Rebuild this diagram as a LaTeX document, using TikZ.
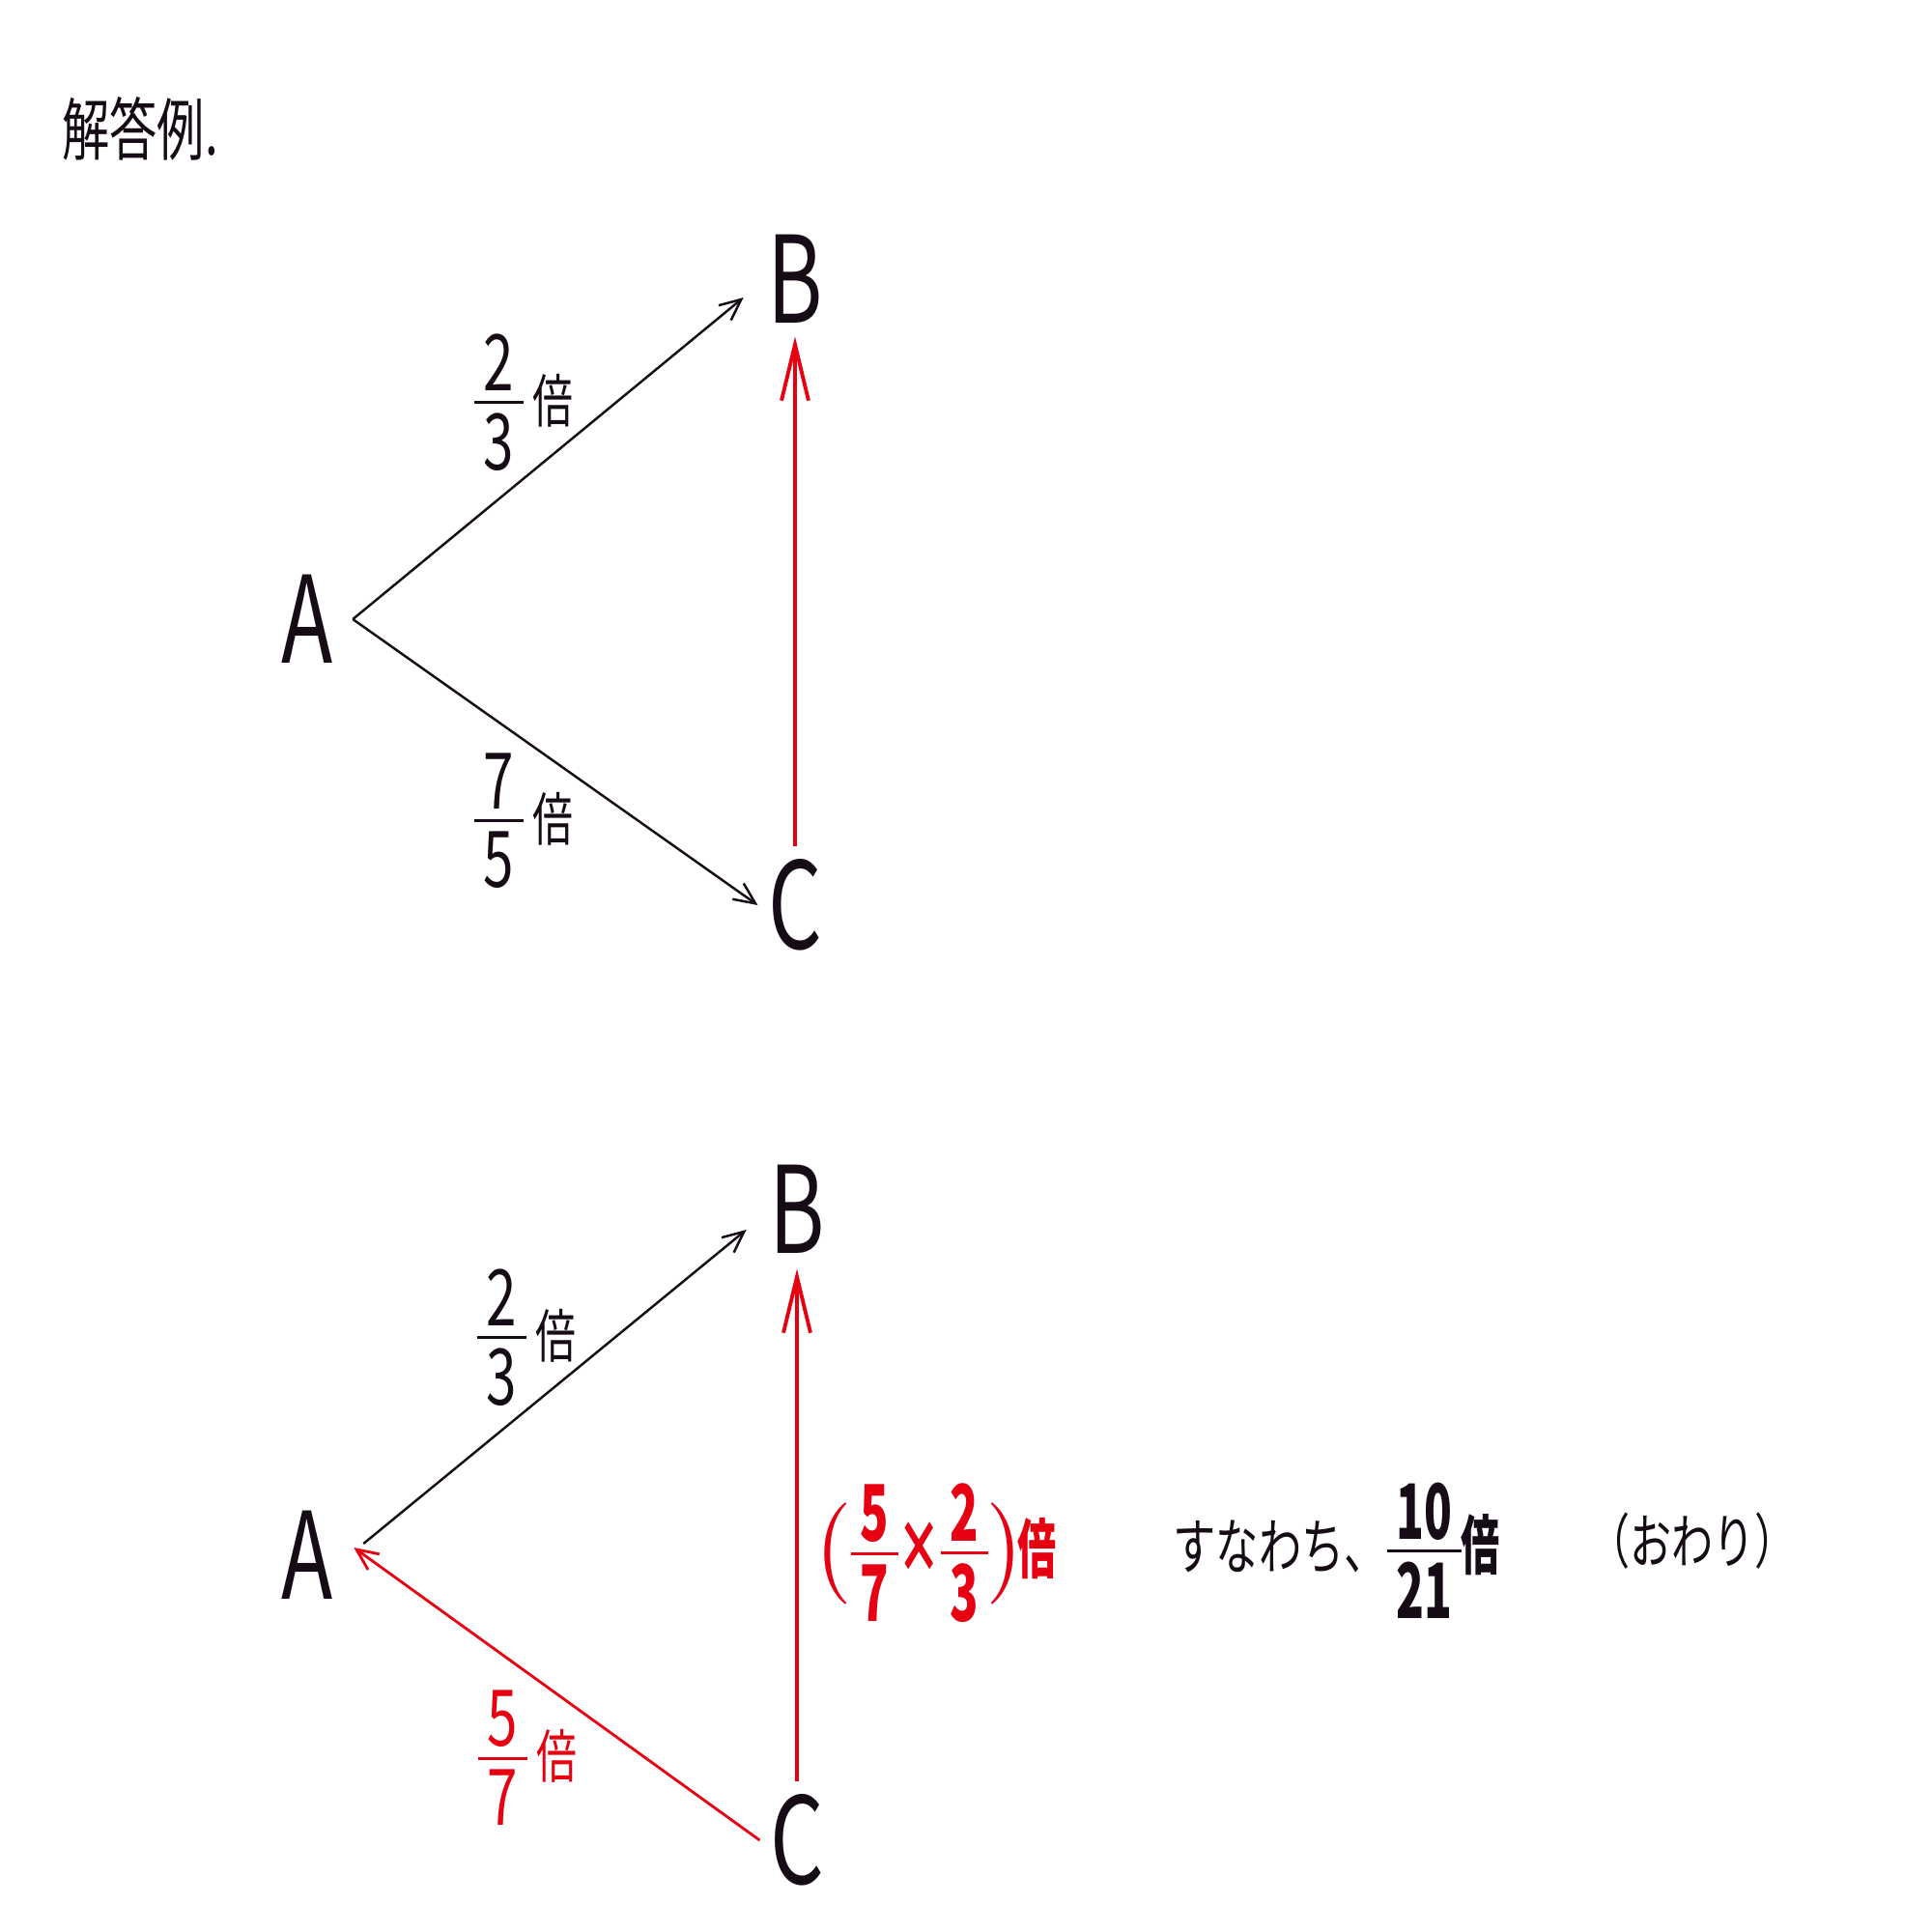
\documentclass[tikz,border=0pt]{standalone}
\usepackage{fix-cm}
\usepackage{amsmath}
\usepackage{fontspec}
\setmainfont{Noto Sans CJK JP}[FakeStretch=0.7]
\newfontfamily\etroit{Noto Sans CJK JP}[FakeStretch=0.6]
\usetikzlibrary{arrows.meta}
\definecolor{aka}{HTML}{E60012}
\definecolor{sumi}{HTML}{160C16}
\tikzstyle{sommet} = [font=\fontsize{35.5}{35.5}\selectfont, text=sumi, inner sep=0pt]
\tikzstyle{etiquette} = [font=\fontsize{23}{23}\selectfont, inner sep=0pt]
\tikzstyle{fleche} = [draw=sumi, line width=0.7pt, -{Straight Barb[length=2.2mm,width=2mm]}]
\tikzstyle{flecherouge} = [draw=aka, line width=1.1pt, -{Straight Barb[length=5.8mm,width=2.8mm]}]
\newcommand{\frc}[2]{\ensuremath{\vcenter{\offinterlineskip
    \halign{\kern0.12em\hfil##\hfil\kern0.12em\cr #1\cr
      \noalign{\kern0.12em\hrule height0.045em\kern0.12em}#2\cr}}}}
\newcommand{\bai}{{\fontsize{17}{17}\selectfont\,倍}}
\newcommand{\baigras}[1]{{\fontsize{#1}{#1}\selectfont 倍}}

\begin{document}
\begin{tikzpicture}
                \useasboundingbox (0,0) rectangle (20,-20);
                \node [anchor=west, font=\fontsize{20}{20}\selectfont, text=sumi] (titre) at (0.52,-1.33) {解答例.};

                % premier schema
                \node [sommet] (A1) at (3.18,-6.41) {A};
                \node [sommet] (B1) at (8.23,-2.89) {B};
                \node [sommet] (C1) at (8.23,-9.37) {C};
                \node [etiquette, text=sumi] (r1) at (5.42,-4.17) {\frc{2}{3}\bai};
                \node [etiquette, text=sumi] (r2) at (5.42,-8.50) {\frc{7}{5}\bai};

                \draw[fleche] ([xshift=2mm]A1.east) -- ([xshift=-2.4mm,yshift=-1.9mm]B1.west);
                \draw[fleche] ([xshift=2mm]A1.east) -- ([xshift=-1mm]C1.west);
                \draw[flecherouge] ([yshift=1.3mm]C1.north) -- ([yshift=-1.3mm]B1.south);

                % second schema
                \node [sommet] (A2) at (3.18,-16.10) {A};
                \node [sommet] (B2) at (8.25,-12.52) {B};
                \node [sommet] (C2) at (8.25,-19.05) {C};
                \node [etiquette, text=sumi] (r3) at (5.45,-13.85) {\frc{2}{3}\bai};
                \node [etiquette, text=aka] (r4) at (5.46,-18.20) {\frc{5}{7}\bai};

                \draw[fleche] ([xshift=3.1mm,yshift=1.2mm]A2.east) -- ([xshift=-2.3mm,yshift=-2.1mm]B2.west);
                \draw[fleche, draw=aka, line width=0.8pt] ([xshift=-1mm]C2.west) -- ([xshift=2.1mm,yshift=0.8mm]A2.east);
                \draw[flecherouge] ([yshift=1.3mm]C2.north) -- ([yshift=-1.5mm]B2.south);

                \node [etiquette, anchor=west, text=aka, font=\etroit\fontsize{23}{23}\selectfont\bfseries] (calcul) at (8.40,-16.08)
                    {$\delimiterfactor=720\delimitershortfall=12pt\left(\frc{5}{7}\text{\fontsize{21}{21}\selectfont×}\frc{2}{3}\right)$\kern-0.12em\baigras{19}};
                \node [etiquette, anchor=west, text=sumi, font=\fontsize{18}{18}\selectfont] (donc) at (12.14,-16.05)
                    {すなわち、{\etroit\bfseries\fontsize{22.5}{22.5}\selectfont\frc{10}{21}\baigras{19}}};
                \node [etiquette, anchor=west, text=sumi, font=\fontsize{17.5}{17.5}\selectfont] (fin) at (16.44,-15.95) {（おわり）};
            \end{tikzpicture}
\end{document}
